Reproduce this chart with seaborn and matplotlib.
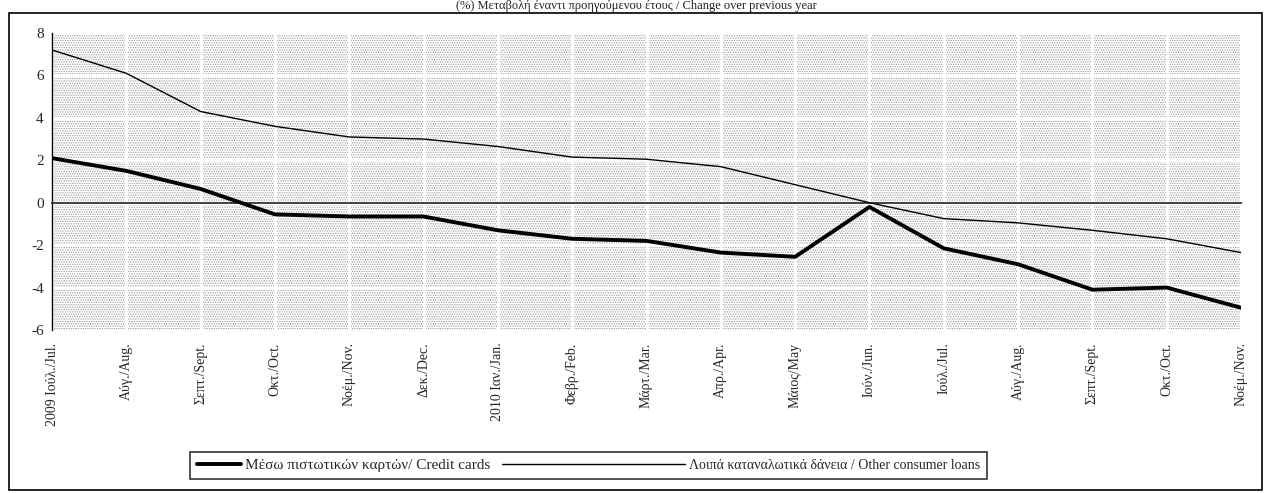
import numpy as np
import pandas as pd
import matplotlib
matplotlib.use('Agg')
import matplotlib.pyplot as plt
import seaborn as sns
from matplotlib.patches import Rectangle
from matplotlib.legend_handler import HandlerLine2D

# data (% change over previous year)
months = ['2009 Ιούλ./Jul.', 'Αύγ./Aug.', 'Σεπτ./Sept.', 'Οκτ./Oct.', 'Νοέμ./Nov.',
          'Δεκ./Dec.', '2010 Ιαν./Jan.', 'Φεβρ./Feb.', 'Μάρτ./Mar.', 'Απρ./Apr.',
          'Μάιος/May', 'Ιούν./Jun.', 'Ιούλ./Jul.', 'Αύγ./Aug.', 'Σεπτ./Sept.',
          'Οκτ./Oct.', 'Νοέμ./Nov.']
credit_cards = [2.1, 1.5, 0.65, -0.55, -0.65, -0.65, -1.3, -1.7, -1.8, -2.35,
                -2.55, -0.2, -2.15, -2.9, -4.1, -4.0, -4.95]
other_loans = [7.2, 6.1, 4.3, 3.6, 3.1, 3.0, 2.65, 2.15, 2.05, 1.7,
               0.85, 0.0, -0.75, -0.95, -1.3, -1.7, -2.35]
label_cards = 'Μέσω πιστωτικών καρτών/ Credit cards'
label_other = 'Λοιπά καταναλωτικά δάνεια / Other consumer loans'

df = pd.DataFrame({'pos': np.arange(len(months)),
                   'cards': credit_cards, 'other': other_loans})


# legend handle that reaches back into the column gap (as in the original)
class LongHandler(HandlerLine2D):
    def __init__(self, extra, **kw):
        super().__init__(**kw)
        self.extra = extra

    def create_artists(self, legend, orig_handle, xdescent, ydescent, width,
                       height, fontsize, trans):
        return super().create_artists(legend, orig_handle, xdescent + self.extra,
                                      ydescent, width + self.extra, height,
                                      fontsize, trans)


sns.set_style('white')
plt.rcParams['font.family'] = ['Liberation Serif', 'DejaVu Serif']
plt.rcParams['axes.unicode_minus'] = False
plt.rcParams['hatch.color'] = '#9a9a9a'
plt.rcParams['hatch.linewidth'] = 0.6

fig = plt.figure(figsize=(12.65, 4.93), dpi=100)
ax = fig.add_axes([52/1265, 1 - 330/493, (1241-52)/1265, (330-33)/493])

# dotted background with white grid
ax.add_patch(Rectangle((0, 0), 1, 1, transform=ax.transAxes, facecolor='white',
                       edgecolor='#9a9a9a', hatch='.......', lw=0, zorder=0))
for y in range(-4, 9, 2):
    ax.axhline(y, color='white', lw=2.2, zorder=1)
for x in df['pos']:
    ax.axvline(x, color='white', lw=2.2, zorder=1)

sns.lineplot(data=df, x='pos', y='cards', color='black', lw=2.8, ax=ax,
             label=label_cards, zorder=4)
sns.lineplot(data=df, x='pos', y='other', color='black', lw=1.0, ax=ax,
             label=label_other, zorder=4)

ax.set_xlim(0, len(months) - 1)
ax.set_ylim(-6, 8)
ax.set_yticks(range(-6, 9, 2))
ax.set_xlabel('')
ax.set_ylabel('')

# x axis crosses at zero, labels stay at the bottom
for s in ['top', 'right']:
    ax.spines[s].set_visible(False)
ax.spines['bottom'].set_position(('data', 0))
ax.spines['bottom'].set_color('#333333')
ax.spines['bottom'].set_linewidth(1.3)
ax.spines['left'].set_color('black')
ax.spines['left'].set_linewidth(1.0)
ax.set_xticks(df['pos'])
ax.tick_params(axis='x', direction='out', length=4, width=1.2, labelbottom=False)
ax.tick_params(axis='y', direction='out', length=4, width=1.0, labelsize=11, pad=2)

sec = ax.secondary_xaxis('bottom')
sec.set_xticks(df['pos'])
sec.set_xticklabels(months, rotation=90, fontsize=10)
sec.tick_params(length=0, pad=9)
sec.spines['bottom'].set_visible(False)

ax.legend_.remove()
handles, labels = ax.get_legend_handles_labels()
leg = fig.legend(handles, labels, loc='center left',
                 bbox_to_anchor=(182/1265, 1 - 465.5/493),
                 ncol=2, fontsize=11, frameon=True, fancybox=False, edgecolor='black',
                 handlelength=2.9, columnspacing=9.86, handletextpad=0.25,
                 borderpad=0.45, handler_map={handles[1]: LongHandler(extra=99.4)})
leg.get_frame().set_linewidth(1.2)
leg.get_texts()[1].set_fontsize(10)

fig.text(636/1265, 1 - 0.5/493, '(%) Μεταβολή έναντι προηγούμενου έτους / Change over previous year',
         ha='center', va='top', fontsize=9, color='#222222')

fig.add_artist(Rectangle((9/1265, 3/493), (1262-9)/1265, (480-3)/493,
                         transform=fig.transFigure, fill=False, edgecolor='black', lw=1.2))

fig.savefig('out.png', dpi=100)
